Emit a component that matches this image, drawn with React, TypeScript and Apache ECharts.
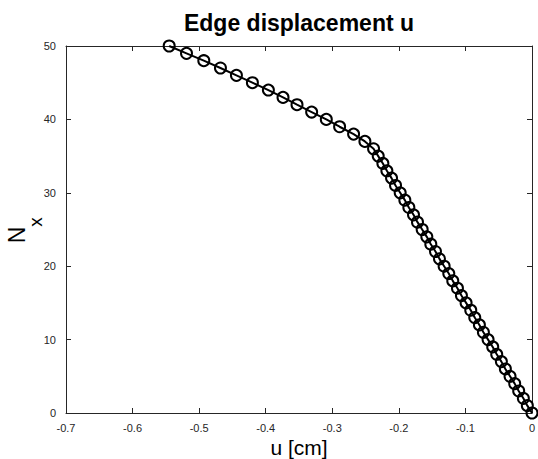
import React, { useEffect, useRef } from "react";
import * as echarts from "echarts";

// Load steps N_x (0..50) and the corresponding edge displacement u [cm]
const loadSteps: number[] = [
  0, 1, 2, 3, 4, 5, 6, 7, 8, 9, 10, 11, 12, 13, 14, 15, 16, 17, 18, 19, 20,
  21, 22, 23, 24, 25, 26, 27, 28, 29, 30, 31, 32, 33, 34, 35, 36, 37, 38, 39,
  40, 41, 42, 43, 44, 45, 46, 47, 48, 49, 50,
];
const displacement: number[] = [
  0, -0.007, -0.013, -0.02, -0.026, -0.033, -0.04, -0.046, -0.053, -0.059,
  -0.066, -0.073, -0.079, -0.086, -0.092, -0.099, -0.106, -0.112, -0.119,
  -0.125, -0.132, -0.139, -0.145, -0.152, -0.158, -0.165, -0.172, -0.178,
  -0.185, -0.191, -0.198, -0.205, -0.211, -0.218, -0.224, -0.231, -0.238,
  -0.251, -0.268, -0.289, -0.309, -0.331, -0.353, -0.374, -0.396, -0.42,
  -0.444, -0.468, -0.493, -0.519, -0.545,
];

const titleText = "Edge displacement u";
const xLabel = "u [cm]";

const FONT = "'Liberation Sans', Arial, Helvetica, sans-serif";
const AXIS_COLOR = "#262626";

export default function App() {
  const ref = useRef<HTMLDivElement>(null);

  useEffect(() => {
    if (!ref.current) return;
    const chart = echarts.init(ref.current, undefined, { renderer: "svg" });

    const gridLeft = 66;
    const gridRight = 6;
    const gridTop = 46;
    const gridBottom = 46;
    const plotCenterX = gridLeft + (538 - gridLeft - gridRight) / 2;

    const baseAxisLine = {
      show: true,
      onZero: false,
      lineStyle: { color: AXIS_COLOR, width: 1 },
    };
    const baseTick = { show: true, inside: true, length: 5, lineStyle: { color: AXIS_COLOR } };
    const labelStyle = { color: AXIS_COLOR, fontSize: 11, fontFamily: FONT };

    chart.setOption({
      animation: false,
      backgroundColor: "#ffffff",
      grid: {
        left: gridLeft,
        right: gridRight,
        top: gridTop,
        bottom: gridBottom,
        containLabel: false,
        outerBoundsMode: "none",
      },
      xAxis: [
        {
          type: "value",
          min: -0.7,
          max: 0,
          interval: 0.1,
          position: "bottom",
          axisLine: baseAxisLine,
          axisTick: baseTick,
          splitLine: { show: false },
          axisLabel: { ...labelStyle, margin: 9 },
        },
        {
          type: "value",
          min: -0.7,
          max: 0,
          interval: 0.1,
          position: "top",
          axisLine: baseAxisLine,
          axisTick: baseTick,
          splitLine: { show: false },
          axisLabel: { show: false },
        },
      ],
      yAxis: [
        {
          type: "value",
          min: 0,
          max: 50,
          interval: 10,
          position: "left",
          axisLine: baseAxisLine,
          axisTick: baseTick,
          splitLine: { show: false },
          axisLabel: { ...labelStyle, margin: 10 },
        },
        {
          type: "value",
          min: 0,
          max: 50,
          interval: 10,
          position: "right",
          axisLine: baseAxisLine,
          axisTick: baseTick,
          splitLine: { show: false },
          axisLabel: { show: false },
        },
      ],
      graphic: [
        {
          type: "text",
          x: plotCenterX,
          y: 23,
          style: {
            text: titleText,
            font: `bold 23px ${FONT}`,
            fill: "#000",
            textAlign: "center",
            textVerticalAlign: "middle",
          },
        },
        {
          type: "text",
          x: plotCenterX,
          y: 447,
          style: {
            text: xLabel,
            font: `21px ${FONT}`,
            fill: "#000",
            textAlign: "center",
            textVerticalAlign: "middle",
          },
        },
        {
          type: "text",
          x: 17,
          y: 235,
          rotation: Math.PI / 2,
          style: {
            text: "N",
            font: `23px ${FONT}`,
            fill: "#000",
            textAlign: "center",
            textVerticalAlign: "middle",
          },
        },
        {
          type: "text",
          x: 35,
          y: 222,
          rotation: Math.PI / 2,
          style: {
            text: "x",
            font: `19px ${FONT}`,
            fill: "#000",
            textAlign: "center",
            textVerticalAlign: "middle",
          },
        },
      ],
      series: [
        {
          type: "line",
          xAxisIndex: 0,
          yAxisIndex: 0,
          data: loadSteps.map((n, i) => [displacement[i], n]),
          symbol: "circle",
          symbolSize: 11,
          showSymbol: true,
          lineStyle: { color: "#000", width: 2 },
          itemStyle: { color: "rgba(0,0,0,0)", borderColor: "#000", borderWidth: 2 },
          z: 3,
        },
      ],
    });

    return () => chart.dispose();
  }, []);

  return (
    <div
      ref={ref}
      style={{ position: "absolute", left: 0, top: 0, width: 538, height: 459 }}
    />
  );
}
